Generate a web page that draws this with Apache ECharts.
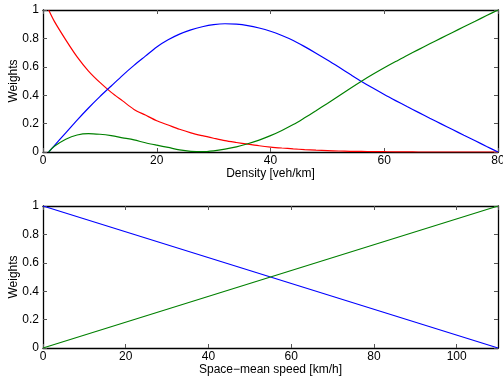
<!DOCTYPE html>
<html>
<head>
<meta charset="utf-8">
<script src="https://cdn.jsdelivr.net/npm/echarts@6/dist/echarts.min.js"></script>
<style>
  html, body { margin: 0; padding: 0; background: #fff; }
  #chart { width: 503px; height: 380px; }
</style>
</head>
<body>
<div id="chart"></div>
<script>
// top panel: weights against density
var density = [1, 2, 4, 6, 8, 10, 12, 14, 16, 18, 20, 22, 24, 26, 28, 30, 32, 34, 36, 38, 40,
               42, 44, 46, 48, 50, 52, 54, 56, 58, 60, 62, 64, 66, 68, 70, 72, 74, 76, 78, 80];
var redW   = [1.00, 0.92, 0.79, 0.67, 0.57, 0.49, 0.42, 0.36, 0.30, 0.26, 0.22, 0.19, 0.16, 0.135, 0.115, 0.097, 0.08, 0.067, 0.055, 0.044, 0.035,
              0.028, 0.022, 0.017, 0.013, 0.01, 0.007, 0.005, 0.004, 0.003, 0.002, 0.001, 0.001, 0, 0, 0, 0, 0, 0, 0, 0];
var blueW  = [0, 0.045, 0.135, 0.225, 0.31, 0.39, 0.465, 0.54, 0.61, 0.675, 0.74, 0.79, 0.83, 0.86, 0.882, 0.897, 0.903, 0.90, 0.89, 0.873, 0.85,
              0.82, 0.785, 0.742, 0.696, 0.648, 0.598, 0.547, 0.497, 0.45, 0.405, 0.362, 0.32, 0.279, 0.238, 0.198, 0.158, 0.118, 0.079, 0.039, 0];
var greenW = [0, 0.04, 0.09, 0.12, 0.13, 0.125, 0.115, 0.10, 0.085, 0.065, 0.048, 0.032, 0.015, 0.005, 0.002, 0.008, 0.02, 0.036, 0.058, 0.084, 0.115,
              0.152, 0.193, 0.241, 0.291, 0.342, 0.395, 0.448, 0.499, 0.547, 0.593, 0.637, 0.679, 0.721, 0.762, 0.802, 0.842, 0.882, 0.921, 0.961, 1.00];

// bottom panel: weights against space-mean speed
var speed = [0, 110];
var blueS = [1, 0];
var greenS = [0, 1];

function pairs(xs, ys) {
  return xs.map(function (x, i) { return [x, ys[i]]; });
}

var font = { fontFamily: 'Liberation Sans, Arial, sans-serif', fontSize: 12, color: '#000' };

function xAx(gi, max, interval, name, top) {
  return {
    type: 'value', gridIndex: gi, min: 0, max: max, interval: interval,
    position: top ? 'top' : 'bottom',
    name: top ? '' : name, nameLocation: 'middle', nameGap: 16, nameMoveOverlap: false,
    nameTextStyle: font,
    axisLine: { show: true, onZero: false, lineStyle: { color: '#000', width: 1.3 } },
    axisTick: { show: true, inside: true, length: 4, lineStyle: { color: '#555' } },
    axisLabel: top ? { show: false } : Object.assign({ margin: 3, showMaxLabel: max % interval === 0 }, font),
    splitLine: { show: false }
  };
}

function yAx(gi, right) {
  return {
    type: 'value', gridIndex: gi, min: 0, max: 1, interval: 0.2,
    position: right ? 'right' : 'left',
    name: right ? '' : 'Weights', nameLocation: 'middle', nameGap: 23, nameMoveOverlap: false,
    nameTextStyle: font,
    axisLine: { show: true, onZero: false, lineStyle: { color: '#000', width: 1.3 } },
    axisTick: { show: true, inside: true, length: 4, lineStyle: { color: '#555' } },
    axisLabel: right ? { show: false } : Object.assign({ margin: 4 }, font),
    splitLine: { show: false }
  };
}

function line(name, color, data, xi, yi, smooth) {
  return {
    name: name, type: 'line', xAxisIndex: xi, yAxisIndex: yi,
    data: data, showSymbol: false, symbol: 'none',
    smooth: smooth ? 0.3 : false,
    lineStyle: { color: color, width: 1.2 },
    itemStyle: { color: color },
    animation: false
  };
}

var chart = echarts.init(document.getElementById('chart'));
chart.setOption({
  animation: false,
  grid: [
    { left: 43, right: 5, top: 10, height: 142, outerBoundsMode: 'none', containLabel: false },
    { left: 43, right: 5, top: 206, height: 142, outerBoundsMode: 'none', containLabel: false }
  ],
  xAxis: [
    xAx(0, 80, 20, 'Density [veh/km]', false),
    xAx(0, 80, 20, '', true),
    xAx(1, 110, 20, 'Space\u2212mean speed [km/h]', false),
    xAx(1, 110, 20, '', true)
  ],
  yAxis: [
    yAx(0, false),
    yAx(0, true),
    yAx(1, false),
    yAx(1, true)
  ],
  series: [
    line('red', '#ff0000', pairs(density, redW), 0, 0, true),
    line('blue', '#0000ff', pairs(density, blueW), 0, 0, true),
    line('green', '#008000', pairs(density, greenW), 0, 0, true),
    line('blue speed', '#0000ff', pairs(speed, blueS), 2, 2, false),
    line('green speed', '#008000', pairs(speed, greenS), 2, 2, false)
  ]
});
</script>
</body>
</html>
